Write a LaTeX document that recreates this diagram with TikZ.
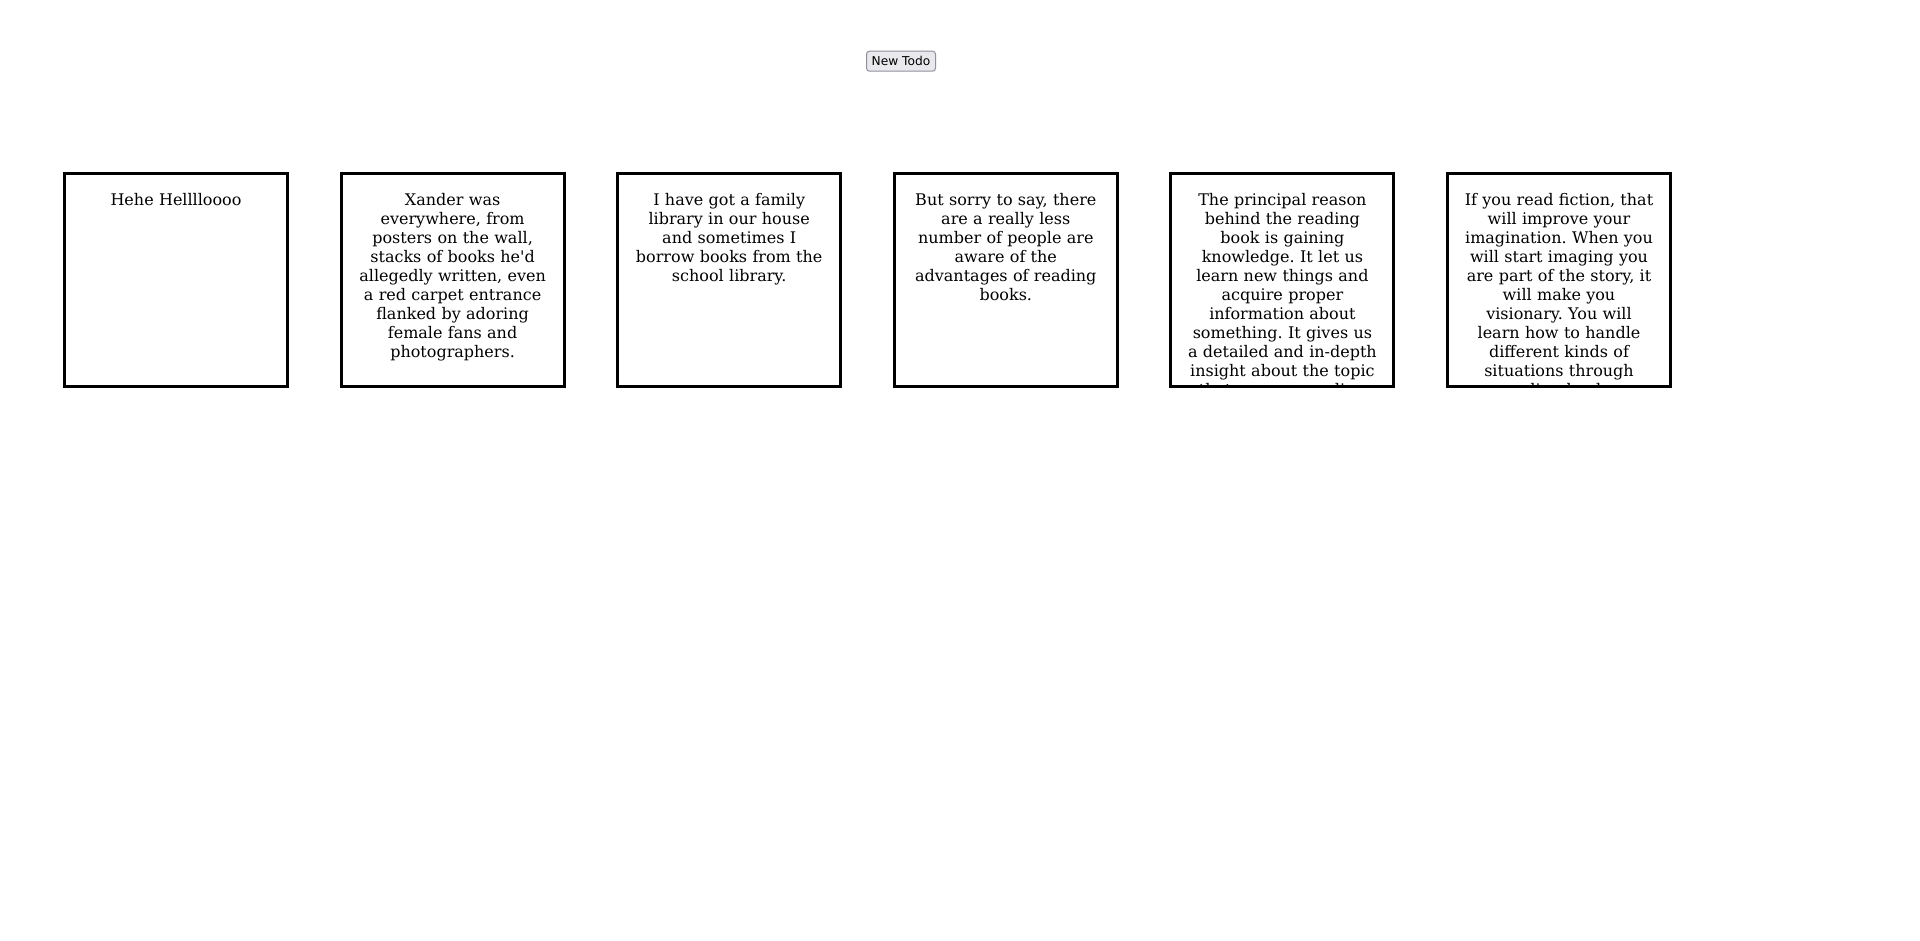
\documentclass[tikz,border=0pt]{standalone}
\usepackage{fontspec}
\newfontfamily\boxfont{DejaVu Serif}[Ligatures=TeXOff]
\newfontfamily\btnfont{DejaVu Sans}
\definecolor{btnfill}{HTML}{E9E9ED}
\definecolor{btnline}{HTML}{8F8F9D}
\frenchspacing
\newcommand\mkcard[3]{%
  \pgfmathsetmacro\cx{176+(#1-1)*276.6}
  \begin{scope}
    \clip (\cx-110,175) rectangle (\cx+110,385);
    \node[cardtext] (#2text) at (\cx,191.5) {\strut #3};
  \end{scope}
  \node[card] (#2) at (\cx,280) {};
}
\begin{document}
\begin{tikzpicture}[x=1pt,y=-1pt,
  card/.style={draw=black,line width=3pt,minimum width=223pt,minimum height=213pt,inner sep=0pt,outer sep=0pt},
  cardtext/.style={anchor=north,align=center,text width=220pt,inner sep=0pt,font=\boxfont\frenchspacing\fontsize{16}{19.05}\selectfont},
  btn/.style={draw=btnline,fill=btnfill,line width=1pt,rounded corners=3pt,minimum width=69pt,minimum height=20pt,inner sep=0pt,font=\btnfont\fontsize{12.2}{15}\selectfont}]
\useasboundingbox[fill=white] (0,0) rectangle (1920,940);
\node[btn] (newtodo) at (901,61.2) {New Todo};
\mkcard{1}{c1}{Hehe Helllloooo}
\mkcard{2}{c2}{Xander was\\everywhere, from\\posters on the wall,\\stacks of books he'd\\allegedly written, even\\a red carpet entrance\\flanked by adoring\\female fans and\\photographers.}
\mkcard{3}{c3}{I have got a family\\library in our house\\and sometimes I\\borrow books from the\\school library.}
\mkcard{4}{c4}{But sorry to say, there\\are a really less\\number of people are\\aware of the\\advantages of reading\\books.}
\mkcard{5}{c5}{The principal reason\\behind the reading\\book is gaining\\knowledge. It let us\\learn new things and\\acquire proper\\information about\\something. It gives us\\a detailed and in-depth\\insight about the topic\\that you are reading}
\mkcard{6}{c6}{If you read fiction, that\\will improve your\\imagination. When you\\will start imaging you\\are part of the story, it\\will make you\\visionary. You will\\learn how to handle\\different kinds of\\situations through\\reading books.}
\end{tikzpicture}
\end{document}
